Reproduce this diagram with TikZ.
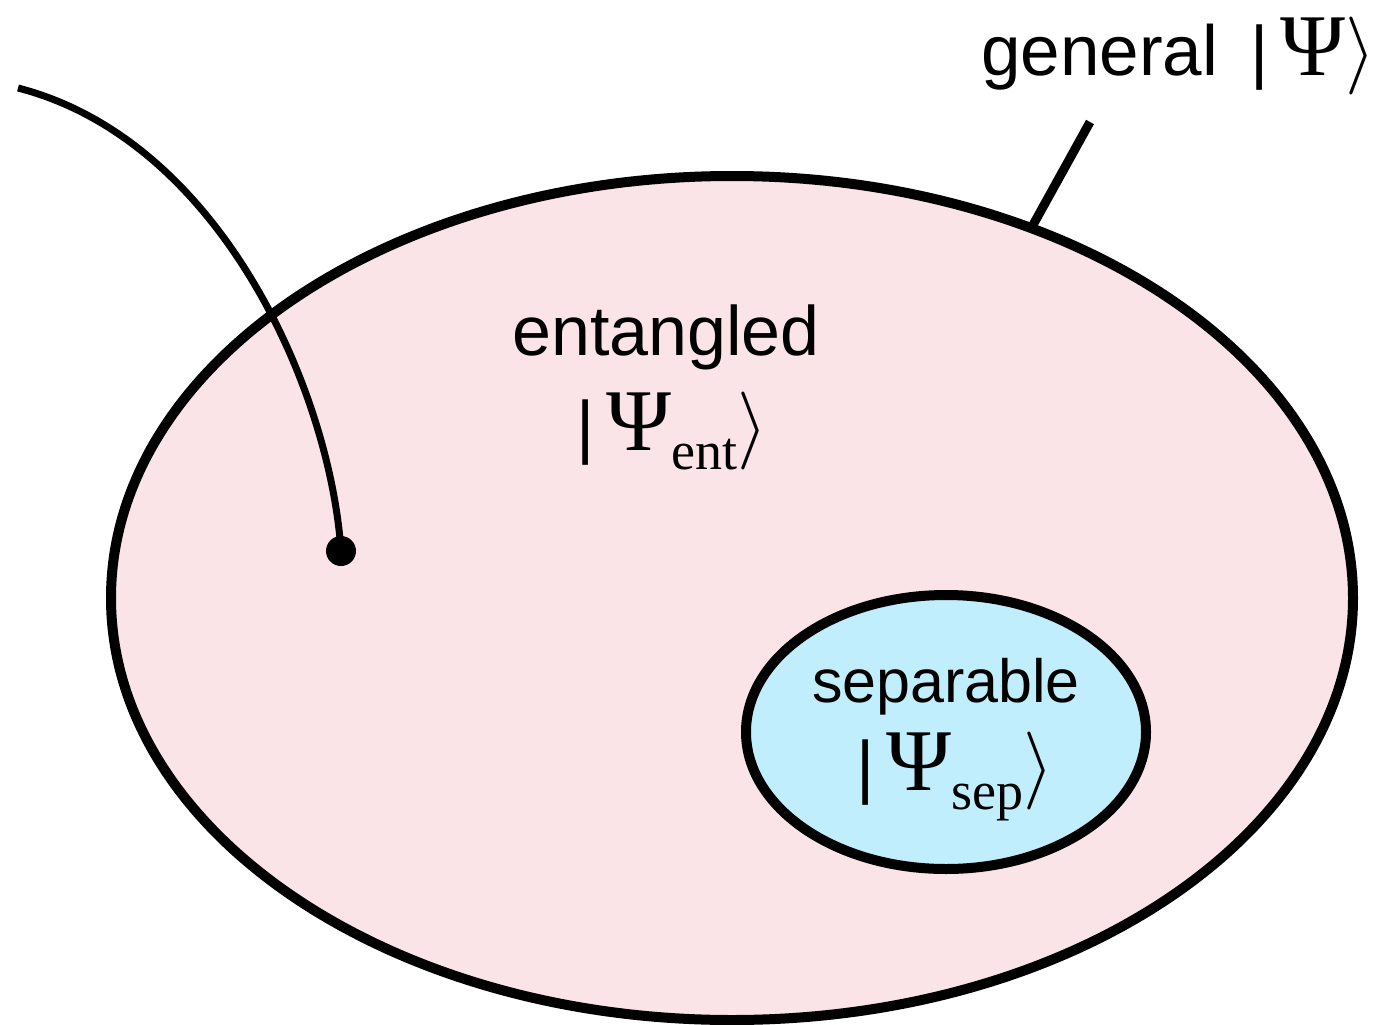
\RequirePackage{fix-cm}
\documentclass[tikz,border=0pt]{standalone}
\usepackage{fontspec}
\setmainfont{Liberation Sans}
\newfontfamily\serifpsi{Liberation Serif}

\definecolor{entpink}{RGB}{251,228,232}
\definecolor{sepblue}{RGB}{193,238,252}

\newcommand{\psiket}[1]{{\fontsize{70}{80}\selectfont|}\hspace{12pt}{\fontsize{88}{90}\selectfont\serifpsi Ψ}\raisebox{-19pt}{\fontsize{54}{56}\selectfont\serifpsi #1}{\fontsize{78}{80}\selectfont$\rangle$}}

\tikzset{
  setline/.style={line width=10pt},
  lbl/.style={inner sep=0pt,anchor=base}
}

\begin{document}
\begin{tikzpicture}[x=1pt,y=-1pt]

\useasboundingbox (0,0) rectangle (1395,1025);

% outer set of all states
\draw[setline,fill=entpink]
(732,598)
ellipse [x radius=621, y radius=422];

% inner set
\draw[setline,fill=sepblue]
(946,732)
ellipse [x radius=200, y radius=137];

\node[lbl]
(E)
at (666,355)
{\fontsize{70}{80}\selectfont entangled};

\node[lbl]
(Eket)
at (672,450)
{\psiket{ent}};

\node[lbl]
(S)
at (946,702)
{\fontsize{61}{70}\selectfont separable};

\node[lbl]
(Sket)
at (955,790)
{\psiket{sep}};

\node[lbl,anchor=base west]
(G)
at (981,75)
{\fontsize{71}{80}\selectfont general\hspace{32pt}\psiket{}};

\coordinate (Gtop) at (1090,122);
\coordinate (Gend) at (1033,225);

\draw[line width=9pt]
(Gtop)
--
(Gend);

\node[circle,fill=black,inner sep=0pt,minimum size=30pt]
(D)
at (341,551)
{};

\coordinate (Cstart) at (18,88);

\draw[line width=7pt]
(Cstart)
.. controls (220,140) and (330,390) ..
(D.center);

\end{tikzpicture}
\end{document}
